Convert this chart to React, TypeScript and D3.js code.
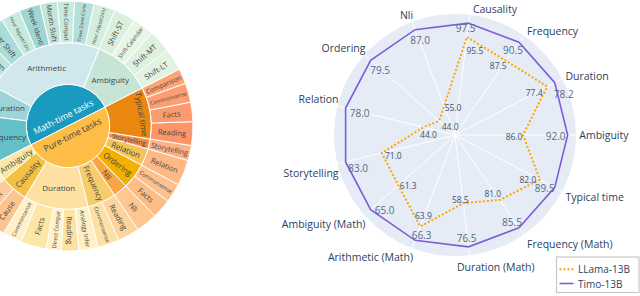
import React, { useMemo } from "react";
import * as d3 from "d3";

const W = 640;
const H = 296;
const FONT = '"Open Sans", "DejaVu Sans", sans-serif';

// ---------- sunburst data ----------
const taskGroups = ["Math-time tasks", "Pure-time tasks"];

// middle ring, listed counter-clockwise starting at the group boundary
const taskTypes: [string, string, string][] = [
  ["mAmb", "Ambiguity", "Math-time tasks"],
  ["mAri", "Arithmetic", "Math-time tasks"],
  ["mDur", "Duration", "Math-time tasks"],
  ["mFre", "Frequency", "Math-time tasks"],
  ["pAmb", "Ambiguity", "Pure-time tasks"],
  ["pCau", "Causality", "Pure-time tasks"],
  ["pDur", "Duration", "Pure-time tasks"],
  ["pFre", "Frequency", "Pure-time tasks"],
  ["pNli", "Nli", "Pure-time tasks"],
  ["pOrd", "Ordering", "Pure-time tasks"],
  ["pRel", "Relation", "Pure-time tasks"],
  ["pSto", "Storytelling", "Pure-time tasks"],
  ["pTyp", "Typical time", "Pure-time tasks"],
];

// outer ring: [label, parent, size]
const subTasks: [string, string, number][] = [
  ["Shift-LT", "mAmb", 10.5],
  ["Shift-MT", "mAmb", 10.5],
  ["Shift-Calendar", "mAmb", 10],
  ["Shift-ST", "mAmb", 10],
  ["Hour Adjust(24h)", "mAri", 10],
  ["Time Zone Conv", "mAri", 9],
  ["Time Comput", "mAri", 8],
  ["Month Shift", "mAri", 8],
  ["Week Identi", "mAri", 10],
  ["Hour Adjust(12h)", "mAri", 9],
  ["Year Shift", "mAri", 11],
  ["Conversion", "mAri", 10],
  ["Leap Year", "mAri", 9],
  ["Commonsense", "mDur", 7],
  ["Facts", "mDur", 7],
  ["Reading", "mDur", 7],
  ["Commonsense", "mFre", 12],
  ["Facts", "mFre", 11],
  ["Reading", "mFre", 11],
  ["Commonsense", "pAmb", 6.5],
  ["Facts", "pAmb", 6.5],
  ["Effect", "pCau", 9],
  ["Cause", "pCau", 10],
  ["Commonsense", "pDur", 9],
  ["Facts", "pDur", 12],
  ["Direct Compar", "pDur", 7],
  ["Reading", "pDur", 8],
  ["Analogy Infer", "pDur", 9],
  ["Commonsense", "pFre", 10],
  ["Reading", "pFre", 10],
  ["Nli", "pNli", 10],
  ["Facts", "pOrd", 9],
  ["Commonsense", "pOrd", 9],
  ["Relation", "pRel", 12],
  ["Storytelling", "pSto", 7],
  ["Reading", "pTyp", 11],
  ["Facts", "pTyp", 9],
  ["Commonsense", "pTyp", 9],
  ["Comparison", "pTyp", 7],
];

// ---------- radar data ----------
const categories = [
  "Causality", "Frequency", "Duration", "Ambiguity", "Typical time",
  "Frequency (Math)", "Duration (Math)", "Arithmetic (Math)", "Ambiguity (Math)",
  "Storytelling", "Relation", "Ordering", "Nli",
];
const timoScores = [97.5, 90.5, 78.2, 92.0, 89.5, 85.5, 76.5, 66.3, 65.0, 83.0, 78.0, 79.5, 87.0];
const llamaScores = [95.5, 87.5, 77.4, 86.0, 82.0, 81.0, 58.5, 63.9, 61.3, 71.0, 44.0, 44.0, 55.0];
// plotted (normalised) radius of each point
const timoRadius = [1, 1, 1, 1, 1, 1, 1, 1, 1, 1, 1, 1, 1];
const llamaRadius = [0.876, 0.8, 0.924, 0.604, 0.851, 0.7, 0.61, 0.868, 0.673, 0.669, 0.288, 0.188, 0.274];

// ---------- styles ----------
const sunColors: Record<string, string> = {
  "Math-time tasks": "#1b9ac0",
  "Pure-time tasks": "#fdbd47",
  mAmb: "#c7e5d7", mAri: "#d0e7ee", mDur: "#9dd3d9", mFre: "#64c0c8",
  pAmb: "#fce8a4", pCau: "#f3c143", pDur: "#fee1a2", pFre: "#f6cd6c", pNli: "#f9a545",
  pOrd: "#f0b101", pRel: "#f3c556", pSto: "#f39050", pTyp: "#ea870e",
  "mAmb:Shift-LT": "#e2f3e2", "mAmb:Shift-MT": "#def1e0", "mAmb:Shift-Calendar": "#e6f5e6", "mAmb:Shift-ST": "#dbefdd",
  "mAri:Hour Adjust(24h)": "#d3eedf", "mAri:Time Zone Conv": "#b5dfd9", "mAri:Time Comput": "#c9eade",
  "mAri:Month Shift": "#c2e6dc", "mAri:Week Identi": "#9fd6d2", "mAri:Hour Adjust(12h)": "#c8e9de",
  "mAri:Year Shift": "#acdcd8", "mAri:Conversion": "#bde3dc", "mAri:Leap Year": "#a9dad6",
  "mDur:Commonsense": "#b7e0e3", "mDur:Facts": "#a9dadf", "mDur:Reading": "#c2e5e8",
  "mFre:Commonsense": "#8acfd4", "mFre:Facts": "#7ccad0", "mFre:Reading": "#95d3d7",
  "pAmb:Commonsense": "#fef1c4", "pAmb:Facts": "#feeebb",
  "pCau:Effect": "#fdca98", "pCau:Cause": "#fcc590",
  "pDur:Commonsense": "#fff0c8", "pDur:Facts": "#fee6a6", "pDur:Direct Compar": "#fff1c9",
  "pDur:Reading": "#fde3a1", "pDur:Analogy Infer": "#fff1c4",
  "pFre:Commonsense": "#fde0a6", "pFre:Reading": "#fdd49a",
  "pNli:Nli": "#fec690",
  "pOrd:Facts": "#fdbd86", "pOrd:Commonsense": "#fdc08f",
  "pRel:Relation": "#feb984",
  "pSto:Storytelling": "#fdb286",
  "pTyp:Reading": "#fd9568", "pTyp:Facts": "#fe9b6e", "pTyp:Commonsense": "#fd9e72", "pTyp:Comparison": "#fca475",
};
const horizontalLabels = new Set(["mAmb", "mAri", "mDur", "mFre", "pDur"]);
const tangentialLabels = new Set(["pTyp"]);

const SUN_CX = 68;
const SUN_CY = 126;
const SUN_R = 125;
const SUN_START = (27 * Math.PI) / 180;

const RAD_CX = 455;
const RAD_CY = 135;
const RAD_R = 121;
const labelNudge: Record<string, number> = { "Duration (Math)": -16 };

// text offsets from each point (like plotly textposition)
const timoTextShift: Record<string, [number, number]> = {
  Causality: [-3, 5], Frequency: [-6, 8], Duration: [9, 11], Ambiguity: [-12, 1],
  "Typical time": [-10, 1], "Frequency (Math)": [-7, -6], "Duration (Math)": [-2, -8.5],
  "Arithmetic (Math)": [6.5, -5.5], "Ambiguity (Math)": [14, 0], Storytelling: [12.5, 6],
  Relation: [14, 5], Ordering: [9.5, 9.5], Nli: [5, 10],
};
const llamaTextShift: Record<string, [number, number]> = {
  Causality: [8, 13], Frequency: [-8, 5], Duration: [-13, 6], Ambiguity: [-9, 1],
  "Typical time": [-12, 0], "Frequency (Math)": [-7, -6], "Duration (Math)": [-3, -4],
  "Arithmetic (Math)": [3, -11], "Ambiguity (Math)": [10, 0], Storytelling: [11.5, 2.5],
  Relation: [5, 7], Ordering: [11, 6], Nli: [9, 1],
};

const TIMO_COLOR = "#7e5ed8";
const LLAMA_COLOR = "#ffa500";
const AXIS_TEXT = "#2a3f5f";

let measureCtx: CanvasRenderingContext2D | null = null;
function emWidth(t: string) {
  if (!measureCtx && typeof document !== "undefined") {
    measureCtx = document.createElement("canvas").getContext("2d");
  }
  if (!measureCtx) return t.length * 0.55;
  measureCtx.font = '100px "Open Sans"';
  return measureCtx.measureText(t).width / 100;
}

type SunNode = { name: string; key: string; value?: number; children?: SunNode[] };

function Sunburst() {
  const { nodes, arc, rScale } = useMemo(() => {
    const data: SunNode = {
      name: "root",
      key: "root",
      children: taskGroups.map((g) => ({
        name: g,
        key: g,
        children: taskTypes
          .filter((t) => t[2] === g)
          .map(([id, label]) => ({
            name: label,
            key: id,
            children: subTasks
              .filter((s) => s[1] === id)
              .map(([l, p, v]) => ({ name: l, key: `${p}:${l}`, value: v })),
          })),
      })),
    };
    const root = d3.hierarchy<SunNode>(data).sum((d) => d.value ?? 0);
    d3.partition<SunNode>().size([2 * Math.PI, 4])(root);
    const rScale = d3.scaleLinear().domain([1, 4]).range([0, SUN_R]);
    const arc = d3
      .arc<d3.HierarchyRectangularNode<SunNode>>()
      .startAngle((d) => Math.PI / 2 - (SUN_START + d.x0))
      .endAngle((d) => Math.PI / 2 - (SUN_START + d.x1))
      .innerRadius((d) => rScale(d.y0))
      .outerRadius((d) => rScale(d.y1));
    const nodes = (root as d3.HierarchyRectangularNode<SunNode>).descendants().filter((d) => d.depth > 0);
    return { nodes, arc, rScale };
  }, []);

  const ringW = SUN_R / 3;

  return (
    <g transform={`translate(${SUN_CX},${SUN_CY})`}>
      {nodes.map((d, i) => (
        <path key={i} d={arc(d) || ""} fill={sunColors[d.data.key] || "#ddd"} stroke="#fff" strokeWidth={1} />
      ))}
      {nodes.map((d, i) => {
        const th = SUN_START + (d.x0 + d.x1) / 2;
        const dth = d.x1 - d.x0;
        const thDeg = (th * 180) / Math.PI;
        const key = d.data.key;
        let mode = "radial";
        let r = (rScale(d.y0) + rScale(d.y1)) / 2;
        let size = 7.5;
        if (d.depth === 1) {
          mode = "tangential";
          r = 10;
          size = 8.8;
        } else if (d.depth === 2) {
          size = 8;
          if (horizontalLabels.has(key)) mode = "horizontal";
          if (tangentialLabels.has(key)) {
            mode = "tangential";
            r = rScale(d.y0) + ringW * 0.8;
          }
        }
        if (mode === "radial") {
          const em = emWidth(d.data.name);
          const thick = 2 * r * Math.sin(dth / 2);
          size = Math.min(size, (ringW - 4) / em, thick / 1.15);
        }
        let phi = 0;
        if (mode === "radial") phi = -thDeg;
        if (mode === "tangential") phi = 90 - thDeg;
        if (mode !== "horizontal") {
          while (phi > 90) phi -= 180;
          while (phi <= -90) phi += 180;
        }
        const x = r * Math.cos(th);
        const y = -r * Math.sin(th);
        return (
          <text
            key={`t${i}`}
            transform={`translate(${x},${y}) rotate(${phi})`}
            textAnchor="middle"
            dominantBaseline="central"
            fontSize={size}
            fill={key === "Math-time tasks" ? "#fff" : "#444"}
          >
            {d.data.name}
          </text>
        );
      })}
    </g>
  );
}

function Radar() {
  const n = categories.length;
  const step = (2 * Math.PI) / n;
  const a0 = Math.PI / 2 - categories.indexOf("Ambiguity") * step;
  const aScale = d3.scaleLinear().domain([0, n]).range([a0, a0 + 2 * Math.PI]);
  const rScale = d3.scaleLinear().domain([0, 1.074]).range([0, RAD_R]);
  const line = d3
    .lineRadial<number>()
    .angle((_, i) => aScale(i))
    .radius((d) => rScale(d))
    .curve(d3.curveLinearClosed);
  const pt = (i: number, r: number) => {
    const a = aScale(i);
    return [r * Math.sin(a), -r * Math.cos(a)];
  };

  return (
    <g transform={`translate(${RAD_CX},${RAD_CY})`}>
      <circle r={RAD_R} fill="#e5ecf6" />
      {categories.map((c, i) => {
        const [x, y] = pt(i, RAD_R);
        return <line key={c} x1={0} y1={0} x2={x} y2={y} stroke="#fff" strokeWidth={1} />;
      })}
      {categories.map((c, i) => {
        const a = aScale(i);
        const th = Math.PI / 2 - a;
        const cs = Math.cos(th);
        const sn = Math.sin(th);
        const [ex, ey] = pt(i, RAD_R);
        const anchor = Math.abs(cs) < 0.1 ? "middle" : cs > 0 ? "start" : "end";
        const x = ex + (anchor === "start" ? 3.3 : anchor === "end" ? 1 : 0) + (labelNudge[c] ?? 0);
        const dy = cs > 0.1 ? (sn > 0 ? -5.5 * sn : -11.5 * sn) : sn > 0 ? -6.7 : 9;
        return (
          <text key={`l${c}`} x={x} y={ey + dy} textAnchor={anchor} dominantBaseline="central" fontSize={10.5} fill={AXIS_TEXT}>
            {c}
          </text>
        );
      })}
      <path d={line(llamaRadius) || ""} fill="none" stroke={LLAMA_COLOR} strokeWidth={2} strokeDasharray="2,2" />
      <path d={line(timoRadius) || ""} fill="none" stroke={TIMO_COLOR} strokeWidth={1.6} />
      {llamaScores.map((v, i) => {
        const [px, py] = pt(i, rScale(llamaRadius[i]));
        const [dx, dy] = llamaTextShift[categories[i]] ?? [0, 0];
        return (
          <text key={`lv${i}`} x={px + dx} y={py + dy} textAnchor="middle" dominantBaseline="central" fontSize={8.5} fill="#44546f">
            {v.toFixed(1)}
          </text>
        );
      })}
      {timoScores.map((v, i) => {
        const [px, py] = pt(i, rScale(timoRadius[i]));
        const [dx, dy] = timoTextShift[categories[i]] ?? [0, 0];
        return (
          <text key={`tv${i}`} x={px + dx} y={py + dy} textAnchor="middle" dominantBaseline="central" fontSize={10} fill="#5a6a86">
            {v.toFixed(1)}
          </text>
        );
      })}
    </g>
  );
}

function Legend() {
  const items = [
    { name: "LLama-13B", color: LLAMA_COLOR, dash: "2,2", w: 2 },
    { name: "Timo-13B", color: TIMO_COLOR, dash: undefined, w: 1.6 },
  ];
  return (
    <g transform="translate(556.5,257)">
      <rect width={82.5} height={35.5} fill="#fff" stroke="#c8c8c8" strokeWidth={1.2} />
      {items.map((it, i) => (
        <g key={it.name} transform={`translate(0,${12.3 + i * 14.2})`}>
          <line x1={3} x2={17} y1={0} y2={0} stroke={it.color} strokeWidth={it.w} strokeDasharray={it.dash} />
          <text x={21.5} y={0} dominantBaseline="central" fontSize={10} fill={AXIS_TEXT}>
            {it.name}
          </text>
        </g>
      ))}
    </g>
  );
}

export default function App() {
  return (
    <svg
      width={W}
      height={H}
      style={{ position: "absolute", left: 0, top: 0, background: "#fff", fontFamily: FONT }}
    >
      <Sunburst />
      <Radar />
      <Legend />
    </svg>
  );
}
